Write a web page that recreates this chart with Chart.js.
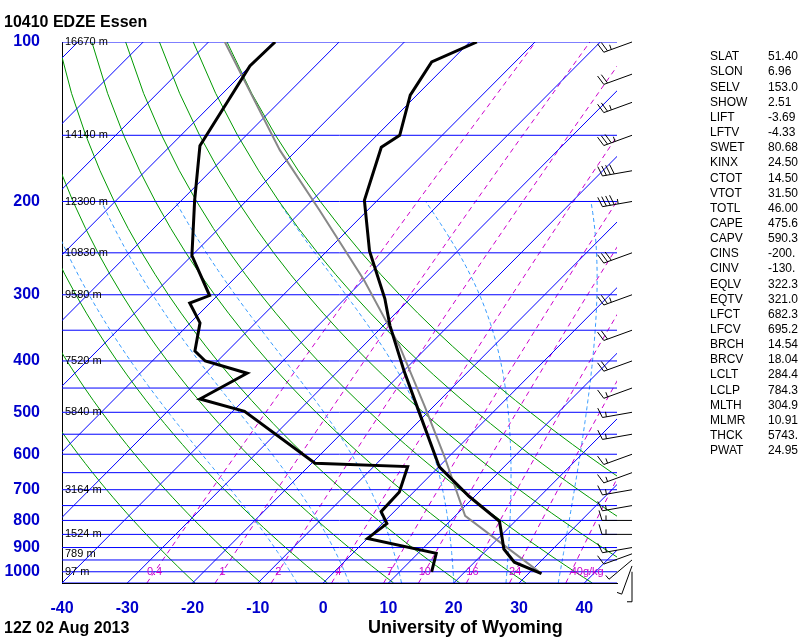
<!DOCTYPE html>
<html><head><meta charset="utf-8">
<script src="https://cdn.jsdelivr.net/npm/chart.js@4"></script>
<style>body{margin:0;background:#fff}#w{width:800px;height:640px}</style>
</head><body><div id="w"><canvas id="c" width="800" height="640"></canvas></div>
<script>
// ---- data ----
const tempP = [1008,959,906,803,721,634,498,418,343,305,248,199,158,150,126,109,100];
const tempT = [32,26.1,22.5,17.6,9.2,0.1,-11.5,-19.9,-29,-33.9,-43.5,-52,-57.5,-56.5,-61,-62.8,-58.9];
const dewP = [1000,923,865,811,770,707,633,624,498,472,422,400,383,339,311,301,253,199,157,111,100];
const dewT = [14.9,12.8,0,0.7,-2,-2.2,-4.8,-19.5,-38.2,-46.9,-43.6,-51.9,-55,-58.5,-63.1,-61.2,-70,-78,-85.5,-90,-89.8];
const parcelP = [1008,784,606,487,375,282,208,160,100];
const parcelT = [32,11.5,-0.7,-11.4,-24.4,-39.8,-57.3,-72.6,-97.5];
const pressTicks = [100,200,300,400,500,600,700,800,900,1000];
const heightP = [100,150,200,250,300,400,500,700,850,925,1000];
const heightLbl = ['16670 m','14140 m','12300 m','10830 m','9580 m','7520 m','5840 m','3164 m','1524 m','789 m','97 m'];
const mixW = [0.4,1,2,4,7,10,16,24,40];
const windP = [1000,975,950,925,900,850,800,750,700,650,600,550,500,450,400,350,300,250,200,175,150,130,115,100];
const windKt = [5,5,5,10,15,15,15,15,15,15,15,15,15,15,20,20,25,30,45,40,35,25,20,25];
const windDir = [180,200,230,250,260,270,270,260,260,250,250,260,260,250,250,250,250,250,260,260,250,250,250,250];
const statNames = ['SLAT','SLON','SELV','SHOW','LIFT','LFTV','SWET','KINX','CTOT','VTOT','TOTL','CAPE','CAPV','CINS','CINV','EQLV','EQTV','LFCT','LFCV','BRCH','BRCV','LCLT','LCLP','MLTH','MLMR','THCK','PWAT'];
const statVals = ['51.40','6.96','153.0','2.51','-3.69','-4.33','80.68','24.50','14.50','31.50','46.00','475.6','590.3','-200.','-130.','322.3','321.0','682.3','695.2','14.54','18.04','284.4','784.3','304.9','10.91','5743.','24.95'];

const PBOT = 1050, SKEW = 35.06;
const sk = (T,p) => T + SKEW*Math.log(PBOT/p);
const prof = (P,T) => P.map((p,i)=>({x:sk(T[i],p), y:p}));

const ds = [];
const bg = (pts,color,w,dash)=>ds.push({data:pts,borderColor:color,borderWidth:w,borderDash:dash||[],pointRadius:0,fill:false,tension:0,order:5});
for(let p=100;p<=1050;p+=50) bg([{x:-40,y:p},{x:45,y:p}],'#0000ff',1);
for(let T=-130;T<=40;T+=10) bg([{x:sk(T,PBOT),y:PBOT},{x:sk(T,100),y:100}],'#0000ff',1);
for(let th=240;th<=470;th+=10){const pts=[];for(let p=1050;p>=100;p-=25){pts.push({x:sk(th*Math.pow(p/1000,0.286)-273.15,p),y:p});}bg(pts,'#009900',1);}
function es(T){return 6.112*Math.exp(17.67*T/(T+243.5));}
for(let T0=-4;T0<=36;T0+=8){let T=T0+273.15;const pts=[];for(let p=1050;p>=200;p-=5){pts.push({x:sk(T-273.15,p),y:p});const rs=0.622*es(T-273.15)/(p-es(T-273.15));const dT=(287*T+2.5e6*rs)/(p*(1004+2.5e6*2.5e6*rs*0.622/(287*T*T)));T-=dT*5;}bg(pts,'#3399ff',1,[4,3]);}
function tdw(w,p){const e=w*p/(622+w);const l=Math.log(e/6.112);return 243.5*l/(17.67-l);}
mixW.forEach(w=>{const pts=[];for(let p=1050;p>=100;p-=50)pts.push({x:sk(tdw(w,p),p),y:p});bg(pts,'#cc00cc',1,[5,4]);});
ds.push({data:prof(parcelP,parcelT),borderColor:'#888',borderWidth:2,pointRadius:0,tension:0,order:2});
ds.push({data:prof(tempP,tempT),borderColor:'#000',borderWidth:3,pointRadius:0,tension:0,order:1});
ds.push({data:prof(dewP,dewT),borderColor:'#000',borderWidth:3,pointRadius:0,tension:0,order:1});

const deco={id:'deco',afterDraw(ch){const c=ch.ctx,y=ch.scales.y,x=ch.scales.x;c.save();
 c.fillStyle='#000';c.font='bold 16px "Liberation Sans"';c.textAlign='left';c.textBaseline='alphabetic';
 c.fillText('10410 EDZE Essen',4,27);c.fillText('12Z 02 Aug 2013',4,633);
 c.font='bold 18px "Liberation Sans"';c.fillText('University of Wyoming',368,633);
 c.font='11px "Liberation Sans"';c.textBaseline='middle';
 heightP.forEach((p,i)=>c.fillText(heightLbl[i],65,y.getPixelForValue(p)));
 c.fillStyle='#cc00cc';c.textAlign='center';
 mixW.forEach((w,i)=>{const last=i==mixW.length-1;c.fillText(last?'40g/kg':String(w),x.getPixelForValue(sk(tdw(w,1000),1000))+(last?16:0),y.getPixelForValue(1000));});
 c.fillStyle='#000';c.font='12px "Liberation Sans"';c.textAlign='left';
 statNames.forEach((n,i)=>{c.fillText(n,710,57+i*15.15);c.fillText(statVals[i],768,57+i*15.15);});
 c.strokeStyle='#000';c.lineWidth=1;
 windP.forEach((p,i)=>{const py=y.getPixelForValue(p),px=632;const a=windDir[i]*Math.PI/180;const dx=Math.sin(a),dy=-Math.cos(a);const L=30;
  const ex=px+dx*L,ey=py+dy*L;c.beginPath();c.moveTo(px,py);c.lineTo(ex,ey);
  let s=windKt[i],k=0;while(s>=10){const bx=ex-dx*k*4,by=ey-dy*k*4;c.moveTo(bx,by);c.lineTo(bx+(-dy)*10+dx*3,by+dx*10+dy*3);s-=10;k++;}
  if(s>=5){const bx=ex-dx*k*4,by=ey-dy*k*4;c.moveTo(bx,by);c.lineTo(bx+(-dy)*5,by+dx*5);}
  c.stroke();});
 c.restore();}};

new Chart(document.getElementById('c'),{type:'line',data:{datasets:ds},plugins:[deco],
options:{responsive:false,animation:false,parsing:false,
 layout:{padding:{top:42,right:183,left:0,bottom:0}},
 plugins:{legend:{display:false},tooltip:{enabled:false}},
 scales:{
  x:{type:'linear',min:-40,max:45,grid:{display:false},border:{display:true,color:'#000'},
     afterBuildTicks(s){s.ticks=[-40,-30,-20,-10,0,10,20,30,40].map(v=>({value:v}));},
     afterFit(s){s.height=57;},
     ticks:{color:'#0000cc',font:{family:'Liberation Sans',size:16,weight:'bold'},padding:8,maxRotation:0}},
  y:{type:'logarithmic',min:100,max:PBOT,reverse:true,grid:{display:false},border:{display:true,color:'#000'},
     afterBuildTicks(s){s.ticks=pressTicks.map(v=>({value:v}));},
     afterFit(s){s.width=62;},
     ticks:{color:'#0000cc',font:{family:'Liberation Sans',size:16,weight:'bold'},callback:v=>String(v),padding:14}}
 }}});
</script></body></html>
